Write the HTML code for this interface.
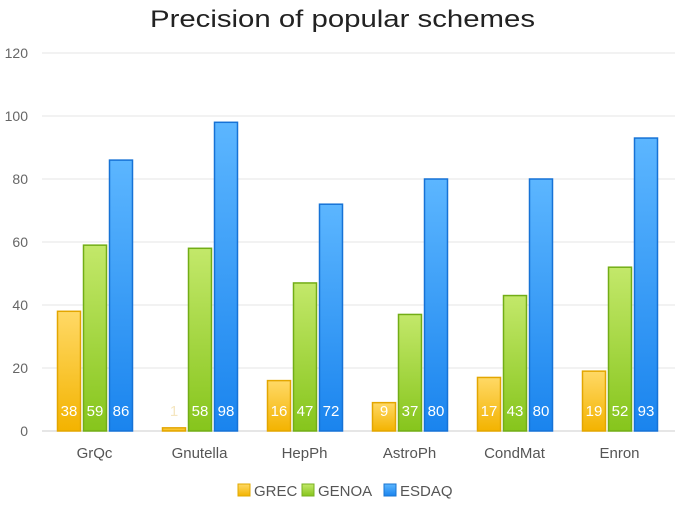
<!DOCTYPE html>
<html><head><meta charset="utf-8"><style>
body{margin:0;background:#fff;}
svg text{font-family:"Liberation Sans",sans-serif;}
</style></head><body>
<svg id="chart" width="685" height="500" xmlns="http://www.w3.org/2000/svg">
<defs>
<linearGradient id="gY" x1="0" y1="0" x2="0" y2="1"><stop offset="0" stop-color="#ffd966"/><stop offset="1" stop-color="#f3b300"/></linearGradient>
<linearGradient id="gG" x1="0" y1="0" x2="0" y2="1"><stop offset="0" stop-color="#c3e86a"/><stop offset="1" stop-color="#86c51c"/></linearGradient>
<linearGradient id="gB" x1="0" y1="0" x2="0" y2="1"><stop offset="0" stop-color="#5cb6ff"/><stop offset="1" stop-color="#1a84ee"/></linearGradient>
</defs>
<text x="150" y="27" textLength="385" lengthAdjust="spacingAndGlyphs" font-size="24" fill="#222">Precision of popular schemes</text>
<g id="grid"></g><g id="bars"></g>
<g>
<rect x="238" y="484" width="12" height="12" fill="url(#gY)" stroke="#e0a800"/>
<text x="254" y="496" font-size="15" fill="#555">GREC</text>
<rect x="302" y="484" width="12" height="12" fill="url(#gG)" stroke="#78b020"/>
<text x="318" y="496" font-size="15" fill="#555">GENOA</text>
<rect x="384" y="484" width="12" height="12" fill="url(#gB)" stroke="#1a74d0"/>
<text x="400" y="496" font-size="15" fill="#555">ESDAQ</text>
</g>
</svg>
<script>
const categories=["GrQc","Gnutella","HepPh","AstroPh","CondMat","Enron"];
const grec=[38,1,16,9,17,19];
const genoa=[59,58,47,37,43,52];
const esdaq=[86,98,72,80,80,93];
const ticks=[0,20,40,60,80,100,120];
const NS="http://www.w3.org/2000/svg";
const y0=431,yTop=53,vmax=120,x0=42,cw=105;
const y=v=>y0-(v/vmax)*(y0-yTop);
const cx=i=>x0+cw*(i+0.5);
function mk(t,a,p){const e=document.createElementNS(NS,t);for(const k in a)e.setAttribute(k,a[k]);p.appendChild(e);return e;}
const grid=document.getElementById('grid'),bars=document.getElementById('bars');
ticks.forEach(t=>{
 const l=mk('line',{x1:x0,x2:675,y1:y(t),y2:y(t),stroke:t===0?'#ccc':'#e6e6e6','stroke-width':1},grid);
 
 
 const tx=mk('text',{x:28,y:y(t)+5,'text-anchor':'end','font-size':14,fill:'#666'},grid);
 tx.textContent=t;
 
 
});
const series=[[grec,'url(#gY)','#e3a600','grec'],[genoa,'url(#gG)','#72ad16','genoa'],[esdaq,'url(#gB)','#1672d6','esdaq']];
categories.forEach((c,i)=>{
 const lab=mk('text',{x:cx(i),y:458,'text-anchor':'middle','font-size':15,fill:'#555'},grid);
 lab.textContent=c;
 
 
 series.forEach((s,j)=>{
  const v=s[0][i],bx=cx(i)-37+j*26;
  const r=mk('rect',{x:bx,y:y(v),width:23,height:y0-y(v),fill:s[1],stroke:s[2],'stroke-width':1.5},bars);
  
  
  const t=mk('text',{x:bx+11.5,y:416,'text-anchor':'middle','font-size':15,fill:v<5?'#f5e6c0':'#fff'},bars);
  t.textContent=v;
  
  
 });
});
</script>
</body></html>
